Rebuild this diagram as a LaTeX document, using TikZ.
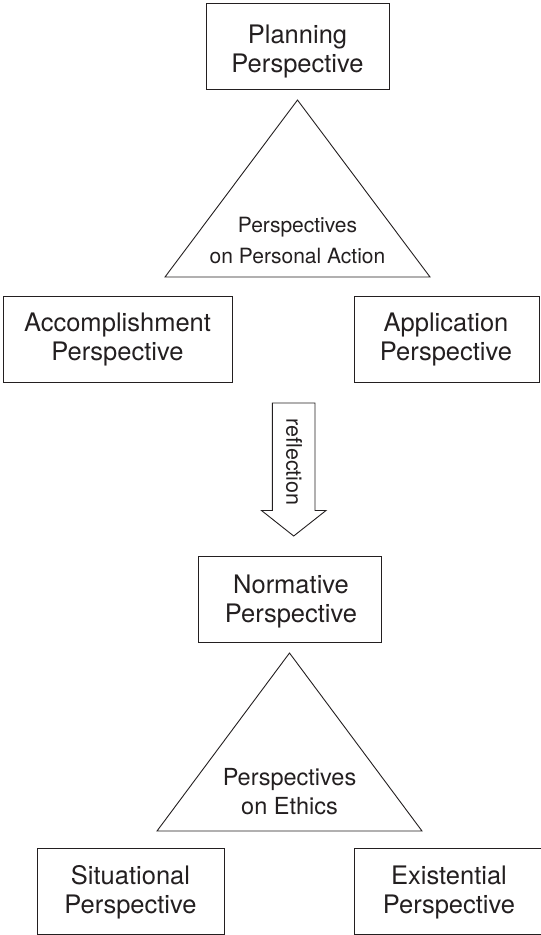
\documentclass[tikz,border=0pt]{standalone}
\usepackage{fontspec}
\setmainfont{TeX Gyre Heros}
\definecolor{ink}{HTML}{231F20}
\begin{document}
\begin{tikzpicture}[x=1pt,y=-1pt,
  box/.style={draw=ink, line width=0.9pt, inner sep=0pt, minimum height=86pt},
  lbl/.style={align=center, inner sep=0pt, text=ink, font=\fontsize{25.5}{29}\selectfont},
  tri/.style={draw=ink, line width=0.9pt, line join=miter},
  trilbl/.style={align=center, inner sep=0pt, text=ink}]
\useasboundingbox (0,0) rectangle (541,935);
\clip (0,0) rectangle (541,935);

% boxes
\node[box, minimum width=183pt] (plan) at (297.5,46) {};
\node[lbl] (planT) at (297.5,51.3) {Planning\\Perspective};

\node[box, minimum width=229pt] (acc) at (117.5,339) {};
\node[lbl] (accT) at (117.5,339.5) {Accomplishment\\Perspective};

\node[box, minimum width=185pt] (app) at (446.5,339) {};
\node[lbl] (appT) at (446,339.5) {Application\\Perspective};

\node[box, minimum width=183pt] (norm) at (289.5,599) {};
\node[lbl] (normT) at (291,601.5) {Normative\\Perspective};

\node[box, minimum width=187pt] (sit) at (130.5,891) {};
\node[lbl] (sitT) at (130.5,892.3) {Situational\\Perspective};

\node[box, minimum width=190pt] (exi) at (449,891) {};
\node[lbl] (exiT) at (449,892.3) {Existential\\Perspective};

% triangle 1
\coordinate (t1a) at (297.5,100);
\coordinate (t1l) at (165,277);
\coordinate (t1r) at (430,277);
\draw[tri] (t1a) -- (t1r) -- (t1l) -- cycle;
\node[trilbl, font=\fontsize{21}{30.5}\selectfont] (t1T) at (297.5,240.7) {Perspectives\\on Personal Action};

% triangle 2
\coordinate (t2a) at (289.5,653);
\coordinate (t2l) at (157,831);
\coordinate (t2r) at (422,831);
\draw[tri] (t2a) -- (t2r) -- (t2l) -- cycle;
\node[trilbl, font=\fontsize{23.5}{29}\selectfont] (t2T) at (289.5,791.6) {Perspectives\\on Ethics};

% block arrow
\draw[tri] (272.3,403) -- (315,403) -- (315,510.5) -- (326,510.5) -- (293.7,536)
  -- (261.5,510.5) -- (272.3,510.5) -- cycle;
\node[trilbl, rotate=-90, font=\fontsize{21.5}{25}\selectfont] (refl) at (294,462) {reflection};
\end{tikzpicture}
\end{document}
